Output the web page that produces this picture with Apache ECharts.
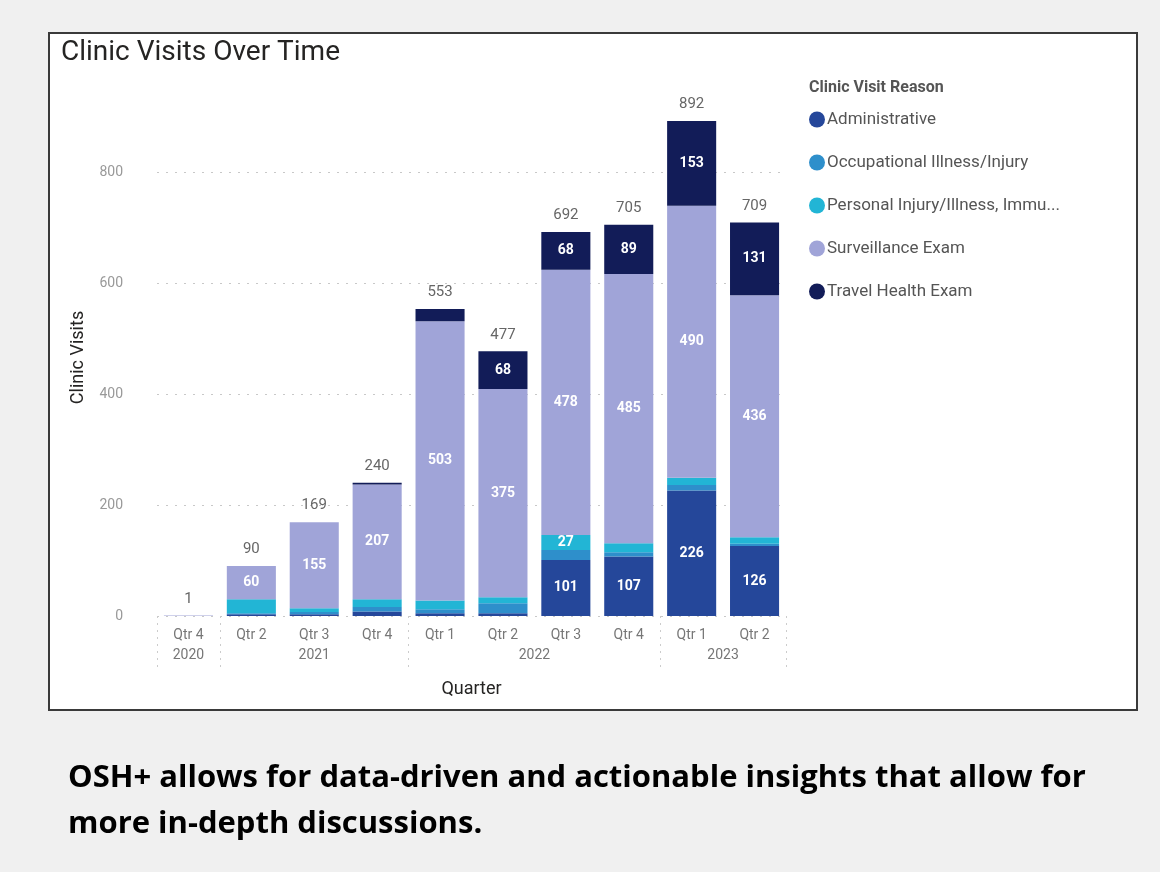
<!DOCTYPE html>
<html>
<head>
<meta charset="utf-8">
<script src="https://cdn.jsdelivr.net/npm/echarts@6/dist/echarts.min.js"></script>
<style>
  html, body { margin: 0; padding: 0; width: 1160px; height: 872px; background: #f0f0f0; overflow: hidden; }
  #box { position: absolute; left: 48px; top: 32px; width: 1086px; height: 675px; border: 2px solid #3a3a3a; background: #ffffff; }
  #chart { position: absolute; left: 0; top: 0; width: 1160px; height: 872px; }
  #caption { position: absolute; left: 68px; top: 752px; width: 1085px; font-family: "Open Sans", "Noto Sans", sans-serif; font-weight: bold; font-size: 31px; line-height: 46px; color: #000; white-space: nowrap; }
</style>
</head>
<body>
<div id="box"></div>
<div id="chart"></div>
<div id="caption">OSH+ allows for data-driven and actionable insights that allow for<br>more in-depth discussions.</div>
<script>
// ---- data ----
const quarters = ['Qtr 4', 'Qtr 2', 'Qtr 3', 'Qtr 4', 'Qtr 1', 'Qtr 2', 'Qtr 3', 'Qtr 4', 'Qtr 1', 'Qtr 2'];
const years = ['2020', '2021', '2021', '2021', '2022', '2022', '2022', '2022', '2023', '2023'];
const seriesNames = ['Administrative', 'Occupational Illness/Injury', 'Personal Injury/Illness, Immu...', 'Surveillance Exam', 'Travel Health Exam'];
const administrative = [0, 3, 3, 8, 5, 5, 101, 107, 226, 126];
const occupational = [0, 2, 4, 8, 7, 18, 18, 8, 10, 4];
const personal = [0, 25, 7, 14, 16, 11, 27, 16, 13, 12];
const surveillance = [1, 60, 155, 207, 503, 375, 478, 485, 490, 436];
const travel = [0, 0, 0, 3, 22, 68, 68, 89, 153, 131];
const yTicks = [0, 200, 400, 600, 800];

const colors = ['#25479a', '#2e8fcb', '#22b5d5', '#a0a4d8', '#121c58'];
const allSeries = [administrative, occupational, personal, surveillance, travel];
const totals = quarters.map((_, i) => allSeries.reduce((s, arr) => s + arr[i], 0));

// year groups -> centres on a 0..n value axis and group start indices
const yearCenters = {};
const yearStart = {};
let start = 0;
for (let i = 1; i <= years.length; i++) {
  if (i === years.length || years[i] !== years[start]) {
    yearCenters[(start + i) / 2] = years[start];
    yearStart[start] = true;
    start = i;
  }
}

const font = 'Roboto, "Noto Sans", sans-serif';
const chart = echarts.init(document.getElementById('chart'), null, { renderer: 'canvas' });

const barSeries = seriesNames.map((name, k) => ({
  name: name,
  type: 'bar',
  stack: 'total',
  data: allSeries[k],
  barCategoryGap: '22%',
  itemStyle: { color: colors[k] },
  label: {
    show: true,
    position: 'inside',
    color: '#ffffff',
    fontFamily: font,
    fontWeight: 'bold',
    fontSize: 14,
    formatter: p => (p.value >= 26 ? String(p.value) : '')
  },
  emphasis: { disabled: true }
}));

barSeries.push({
  name: 'Total',
  type: 'bar',
  stack: 'total',
  data: quarters.map(() => 0),
  itemStyle: { color: 'rgba(0,0,0,0)' },
  label: {
    show: true,
    position: 'top',
    distance: 9,
    color: '#666666',
    fontFamily: font,
    fontSize: 15,
    formatter: p => String(totals[p.dataIndex])
  },
  emphasis: { disabled: true }
});

const option = {
  animation: false,
  textStyle: { fontFamily: font },
  title: [
    {
      text: 'Clinic Visits Over Time',
      left: 56, top: 34,
      textStyle: { fontFamily: font, fontSize: 28, fontWeight: 'normal', color: '#252423' }
    },
    {
      text: 'Clinic Visit Reason',
      left: 804, top: 75,
      textStyle: { fontFamily: font, fontSize: 16, fontWeight: 'bold', color: '#555555' }
    }
  ],
  legend: {
    data: seriesNames,
    orient: 'vertical',
    left: 804, top: 106,
    icon: 'circle',
    itemWidth: 16, itemHeight: 16,
    itemGap: 26,
    selectedMode: false,
    textStyle: { fontFamily: font, fontSize: 17, color: '#555555', padding: [0, 0, 0, -3] }
  },
  grid: { left: 157, right: 374, top: 61, bottom: 256, containLabel: false },
  xAxis: [
    {
      type: 'category',
      data: quarters,
      axisLine: { show: false },
      axisTick: {
        show: true,
        interval: (idx) => !!yearStart[idx],
        length: 54,
        lineStyle: { color: '#cccccc', type: [2, 5], width: 1 }
      },
      axisLabel: { color: '#777777', fontFamily: font, fontSize: 14, margin: 12 },
      splitLine: { show: false }
    },
    {
      type: 'value',
      position: 'bottom',
      min: 0, max: quarters.length, interval: 0.5,
      offset: 24,
      axisLine: { show: false },
      axisTick: { show: false },
      splitLine: { show: false },
      axisLabel: {
        color: '#777777', fontFamily: font, fontSize: 14, margin: 8,
        formatter: v => (yearCenters[v] !== undefined ? yearCenters[v] : '')
      },
      name: 'Quarter',
      nameLocation: 'middle',
      nameGap: 40,
      nameTextStyle: { color: '#252423', fontFamily: font, fontSize: 18 }
    }
  ],
  yAxis: {
    type: 'value',
    min: 0, max: 1000, interval: 200,
    axisLine: { show: false },
    axisTick: { show: false },
    axisLabel: {
      color: '#999999', fontFamily: font, fontSize: 14, margin: 34,
      formatter: v => (yTicks.indexOf(v) >= 0 ? String(v) : '')
    },
    splitLine: {
      show: true,
      lineStyle: { color: ['#c8c8c8', '#c8c8c8', '#c8c8c8', '#c8c8c8', '#c8c8c8', 'rgba(0,0,0,0)'], type: [2, 7], width: 1 }
    },
    name: 'Clinic Visits',
    nameLocation: 'middle',
    nameGap: 70,
    nameTextStyle: { color: '#252423', fontFamily: font, fontSize: 18, padding: [0, 0, 0, -38] }
  },
  series: barSeries
};
chart.setOption(option);
</script>
</body>
</html>
